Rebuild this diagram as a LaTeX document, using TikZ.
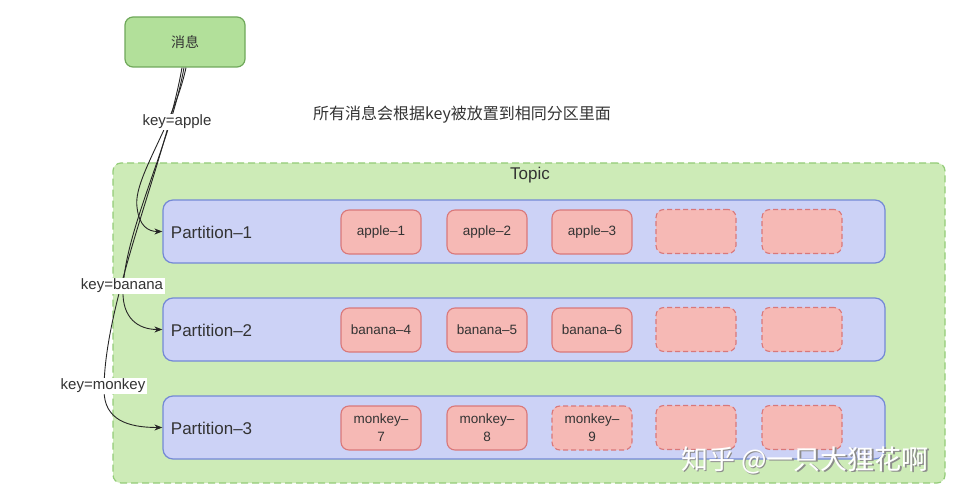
\documentclass[tikz,border=0pt]{standalone}
\usepackage{fontspec}
\setmainfont{Liberation Sans}
\newfontfamily\cjk{Noto Sans CJK SC}
\usetikzlibrary{arrows.meta, positioning}
\definecolor{msgfill}{HTML}{B2E09A}
\definecolor{msgline}{HTML}{6FA85A}
\definecolor{topicfill}{HTML}{CDEBB7}
\definecolor{topicline}{HTML}{93CC78}
\definecolor{partfill}{HTML}{CCD2F6}
\definecolor{partline}{HTML}{7489D6}
\definecolor{cellfill}{HTML}{F6B9B5}
\definecolor{cellline}{HTML}{D9787A}
\definecolor{txt}{HTML}{333333}

\begin{document}
\begin{tikzpicture}[
    x=1pt, y=-1pt,
    every node/.style={text=txt, font=\fontsize{14}{16}\selectfont},
    msgbox/.style={draw=msgline, fill=msgfill, line width=1.2pt,
      rounded corners=8pt, minimum width=120pt, minimum height=50pt},
    topicbox/.style={draw=topicline, fill=topicfill, dash pattern={on 7pt off 4pt},
      line width=1.2pt, rounded corners=8pt, minimum width=832pt, minimum height=320pt},
    partbox/.style={draw=partline, fill=partfill, line width=1.2pt,
      rounded corners=10pt, minimum width=722pt, minimum height=63pt},
    cellbox/.style={draw=cellline, fill=cellfill, line width=1.1pt,
      rounded corners=8pt, minimum width=80pt, minimum height=44pt,
      align=center, inner sep=1pt, font=\fontsize{13.5}{18}\selectfont},
    slotbox/.style={cellbox, dash pattern={on 5pt off 3pt}},
    keylbl/.style={fill=white, inner sep=1.5pt, font=\fontsize{15}{17}\selectfont},
    route/.style={draw=black!85, line width=0.9pt, -{Stealth[length=8pt, width=6pt]}},
  ]
  \useasboundingbox (0,0) rectangle (964,500);

  % Nachricht und Ueberschrift
  \node[msgbox] (msg) at (185,42) {\cjk 消息};
  \node (title) at (462,115) {\cjk\fontsize{16}{18}\selectfont 所有消息会根据key被放置到相同分区里面};

  % Topic mit drei Partitionen
  \node[topicbox] (topic) at (529,323) {};
  \node[font=\fontsize{17}{19}\selectfont] (topiclbl) at (530,175) {Topic};
  \foreach \i/\y in {1/231.5, 2/329.5, 3/427.5} {
    \node[partbox] (p\i) at (524,\y) {};
    \node[anchor=west, font=\fontsize{17}{19}\selectfont] (p\i lbl) at ([xshift=5pt, yshift=-1pt]p\i.west) {Partition–\i};
    \node[slotbox] (s\i a) at (696,\y) {};
    \node[slotbox] (s\i b) at (802,\y) {};
  }

  % Nachrichten in den Partitionen
  \node[cellbox] (c1) at (381,232) {apple–1};
  \node[cellbox] (c2) at (487,232) {apple–2};
  \node[cellbox] (c3) at (592,232) {apple–3};
  \node[cellbox] (c4) at (381,330) {banana–4};
  \node[cellbox] (c5) at (487,330) {banana–5};
  \node[cellbox] (c6) at (592,330) {banana–6};
  \node[cellbox] (c7) at (381,428) {monkey–\\7};
  \node[cellbox] (c8) at (487,428) {monkey–\\8};
  \node[slotbox] (c9) at (592,428) {monkey–\\9};

  % Routen nach key
  \draw[route] ([xshift=1pt]msg.south) .. controls (174,125) and (133,178) .. (137,207)
    .. controls (139,226) and (148,231.5) .. (p1.west);
  \draw[route] ([xshift=-1pt]msg.south) .. controls (170,145) and (125,230) .. (123,290)
    .. controls (122,318) and (138,329.5) .. (p2.west);
  \draw[route] ([xshift=-3pt]msg.south) .. controls (166,160) and (104,300) .. (104,390)
    .. controls (104,420) and (128,427.5) .. (p3.west);
  \node[keylbl] (kapple) at (177,122) {key=apple};
  \node[keylbl] (kbanana) at (122,286) {key=banana};
  \node[keylbl] (kmonkey) at (103,386) {key=monkey};

  % Wasserzeichen
  \node[text=black!45, font=\cjk\fontsize{27}{29}\selectfont] (wmshadow) at (806.5,461.5) {知乎 @一只大狸花啊};
  \node[text=white, font=\cjk\fontsize{27}{29}\selectfont] (wm) at (805,460) {知乎 @一只大狸花啊};
\end{tikzpicture}
\end{document}
